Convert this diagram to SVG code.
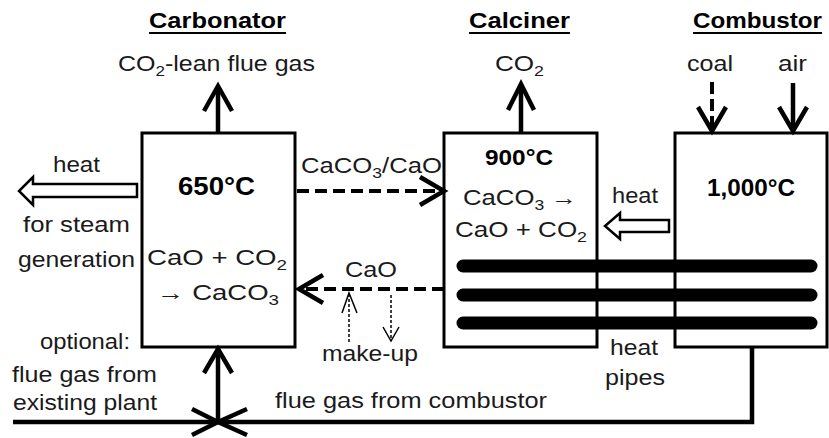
<svg xmlns="http://www.w3.org/2000/svg" width="829" height="438" viewBox="0 0 829 438">
<defs>
<style>
text{font-family:"Liberation Sans",Arial,sans-serif;font-size:22px;fill:#1a1a1a}
.h{font-weight:bold;fill:#000}
.b{font-weight:bold;fill:#000}
.s{font-size:15px}
.box{fill:#fff;stroke:#000;stroke-width:3}
.ln{fill:none;stroke:#000;stroke-width:4.5;stroke-linejoin:miter}
.dash{fill:none;stroke:#000;stroke-width:4;stroke-dasharray:12 6}
.dot{fill:none;stroke:#000;stroke-width:1.5;stroke-dasharray:3 2}
.thin{fill:none;stroke:#000;stroke-width:1.5}
.hollow{fill:#fff;stroke:#000;stroke-width:2.5;stroke-linejoin:miter}
.pipe{stroke:#000;stroke-width:13;stroke-linecap:round}
.ul{stroke:#000;stroke-width:2}
</style>
</defs>
<rect width="829" height="438" fill="#fff"/>

<g id="carbonator">
<rect class="box" x="142" y="133" width="153" height="214"/>
<text class="h" x="149" y="28" textLength="137" lengthAdjust="spacingAndGlyphs">Carbonator</text>
<line class="ul" x1="149" y1="33" x2="286" y2="33"/>
<text class="b" x="178" y="195" style="font-size:25px" textLength="77" lengthAdjust="spacingAndGlyphs">650°C</text>
<text x="147" y="265" textLength="140" lengthAdjust="spacingAndGlyphs">CaO + CO<tspan class="s" dy="5">2</tspan></text>
<text x="157" y="300" textLength="122" lengthAdjust="spacingAndGlyphs">→ CaCO<tspan class="s" dy="5">3</tspan></text>
</g>

<g id="calciner">
<rect class="box" x="444" y="133" width="153" height="214"/>
<text class="h" x="469" y="28" textLength="101" lengthAdjust="spacingAndGlyphs">Calciner</text>
<line class="ul" x1="469" y1="33" x2="570" y2="33"/>
<text class="b" x="485" y="165" style="font-size:22px" textLength="68" lengthAdjust="spacingAndGlyphs">900°C</text>
<text x="463" y="205" textLength="114" lengthAdjust="spacingAndGlyphs">CaCO<tspan class="s" dy="5">3</tspan><tspan dy="-5"> →</tspan></text>
<text x="455" y="237" textLength="132" lengthAdjust="spacingAndGlyphs">CaO + CO<tspan class="s" dy="5">2</tspan></text>
</g>

<g id="combustor">
<rect class="box" x="675" y="133" width="152" height="214"/>
<text class="h" x="693" y="28" textLength="129" lengthAdjust="spacingAndGlyphs">Combustor</text>
<line class="ul" x1="693" y1="33" x2="822" y2="33"/>
<text class="b" x="707" y="196" style="font-size:24px" textLength="88" lengthAdjust="spacingAndGlyphs">1,000°C</text>
</g>

<g id="heat-pipes">
<line class="pipe" x1="463" y1="266" x2="811" y2="266"/>
<line class="pipe" x1="463" y1="295" x2="811" y2="295"/>
<line class="pipe" x1="463" y1="323" x2="811" y2="323"/>
<text x="610" y="355" textLength="48" lengthAdjust="spacingAndGlyphs">heat</text>
<text x="605" y="385" textLength="60" lengthAdjust="spacingAndGlyphs">pipes</text>
</g>

<g id="connectors">
<line class="ln" x1="218" y1="133" x2="218" y2="88"/>
<path class="ln" d="M204,111 L218,86 L232,111"/>
<text x="118" y="71" textLength="197" lengthAdjust="spacingAndGlyphs">CO<tspan class="s" dy="5">2</tspan><tspan dy="-5">-lean flue gas</tspan></text>
<line class="ln" x1="521" y1="133" x2="521" y2="86"/>
<path class="ln" d="M508,110 L521,84 L534,110"/>
<text x="495" y="71" textLength="49" lengthAdjust="spacingAndGlyphs">CO<tspan class="s" dy="5">2</tspan></text>
<line class="dash" x1="712" y1="82" x2="712" y2="128" style="stroke-dasharray:12 5"/>
<path class="ln" d="M698,107 L712,131 L726,107"/>
<text x="687" y="71" textLength="46" lengthAdjust="spacingAndGlyphs">coal</text>
<line class="ln" x1="793" y1="83" x2="793" y2="129"/>
<path class="ln" d="M779,107 L793,131 L807,107"/>
<text x="778" y="71" textLength="29" lengthAdjust="spacingAndGlyphs">air</text>
<line class="dash" x1="297" y1="191" x2="441" y2="191"/>
<path class="ln" d="M420,177 L444,191 L420,205"/>
<text x="301" y="173" textLength="141" lengthAdjust="spacingAndGlyphs">CaCO<tspan class="s" dy="5">3</tspan><tspan dy="-5">/CaO</tspan></text>
<line class="dash" x1="444" y1="289" x2="302" y2="289"/>
<path class="ln" d="M323,275 L299,289 L323,303"/>
<text x="345" y="277" textLength="52" lengthAdjust="spacingAndGlyphs">CaO</text>
<line class="dot" x1="349" y1="342" x2="349" y2="294"/>
<path class="thin" d="M342,313 L349,293 L357,313"/>
<line class="dot" x1="391" y1="295" x2="391" y2="340"/>
<path class="thin" d="M383,327 L391,341 L399,327"/>
<text x="322" y="361" textLength="96" lengthAdjust="spacingAndGlyphs">make-up</text>
<polygon class="hollow" points="137,184 33,184 33,177 19,191 33,205 33,197 137,197"/>
<text x="53" y="172" textLength="47" lengthAdjust="spacingAndGlyphs">heat</text>
<text x="23" y="232" textLength="107" lengthAdjust="spacingAndGlyphs">for steam</text>
<text x="18" y="267" textLength="117" lengthAdjust="spacingAndGlyphs">generation</text>
<polygon class="hollow" points="669,220 620,220 620,213 605,226 620,239 620,232 669,232"/>
<text x="612" y="203" textLength="46" lengthAdjust="spacingAndGlyphs">heat</text>
<path class="ln" d="M13,422 L752,422 L752,347"/>
<line class="ln" x1="218" y1="422" x2="218" y2="351"/>
<path class="ln" d="M204,373 L218,349 L232,373"/>
<path class="ln" d="M192,409 L218,422 L192,435"/>
<path class="ln" d="M247,409 L218,422 L247,435"/>
<text x="40" y="349" textLength="90" lengthAdjust="spacingAndGlyphs">optional:</text>
<text x="12" y="382" textLength="145" lengthAdjust="spacingAndGlyphs">flue gas from</text>
<text x="13" y="410" textLength="144" lengthAdjust="spacingAndGlyphs">existing plant</text>
<text x="275" y="408" textLength="272" lengthAdjust="spacingAndGlyphs">flue gas from combustor</text>
</g>
</svg>
